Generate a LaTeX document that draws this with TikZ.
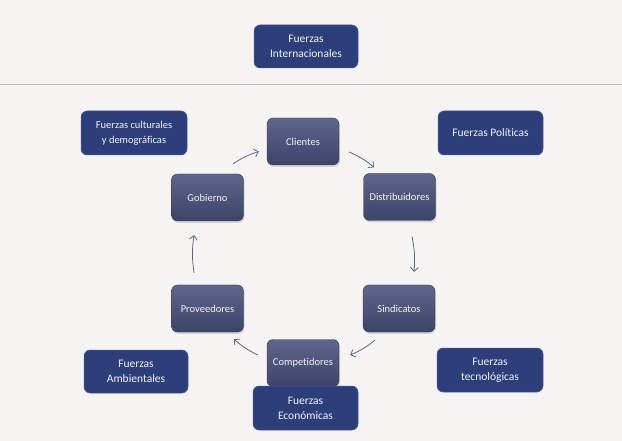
\documentclass[tikz,border=0pt]{standalone}
\usepackage{fontspec}
\setmainfont[Ligatures=NoCommon]{Carlito}
\usetikzlibrary{shadows,arrows.meta}
\definecolor{bg}{HTML}{F5F4F2}
\definecolor{outerfill}{HTML}{2C3F7B}
\definecolor{outerline}{HTML}{4D5C93}
\definecolor{innertop}{HTML}{60658A}
\definecolor{innerbot}{HTML}{3D4469}
\definecolor{arrowc}{HTML}{5E6488}
\definecolor{rulec}{HTML}{BFBCB8}
\definecolor{txt}{HTML}{F2F4FA}
\begin{document}
\begin{tikzpicture}[x=1pt,y=-1pt,
  innerbox/.style={rounded corners=6pt, minimum width=72pt, minimum height=47pt,
    top color=innertop, bottom color=innerbot, draw=innerbot!80!black, line width=0.3pt,
    text=txt, align=center, inner sep=0pt,
    font=\fontsize{10.5}{13}\selectfont,
    drop shadow={opacity=0.25, shadow xshift=1pt, shadow yshift=-2pt}},
  outerbox/.style={rounded corners=6pt, fill=outerfill, draw=outerline, line width=0.5pt,
    text=txt, align=center, inner sep=0pt,
    font=\fontsize{11.5}{15}\selectfont},
  arr/.style={draw=arrowc, line width=0.8pt, -{Straight Barb[length=4pt,width=8pt]}}
]
\useasboundingbox (0,0) rectangle (622,441);
\fill[bg] (0,0) rectangle (622,441);
\coordinate (rl) at (0,85);
\coordinate (rr) at (622,85);
\draw[rulec, line width=1pt] (rl) -- (rr);

\node[outerbox, minimum width=104pt, minimum height=43pt] (inter) at (306,46.5) {Fuerzas\\Internacionales};
\node[outerbox, minimum width=106pt, minimum height=44pt, font=\fontsize{10.5}{15}\selectfont] (cult) at (134,133) {Fuerzas culturales\\y demográficas};
\node[outerbox, minimum width=105pt, minimum height=44pt] (pol) at (490.5,133) {Fuerzas Políticas};
\node[outerbox, minimum width=104pt, minimum height=43pt] (amb) at (136,371.5) {Fuerzas\\Ambientales};
\node[outerbox, minimum width=106pt, minimum height=44pt] (tec) at (490,370) {Fuerzas\\tecnológicas};

\node[innerbox] (cli) at (303,141.5) {Clientes};
\node[innerbox] (dis) at (399.5,197) {Distribuidores};
\node[innerbox] (gob) at (207.5,197.5) {Gobierno};
\node[innerbox] (pro) at (207.5,308.5) {Proveedores};
\node[innerbox] (sin) at (399,308.5) {Sindicatos};
\node[innerbox] (com) at (303,363) {Competidores};

\node[outerbox, minimum width=105pt, minimum height=44pt] (eco) at (305.5,408) {Fuerzas\\Económicas};

\draw[arr] ([shift={(10,10.5)}]cli.east) to[bend left=8] ([shift={(-25.5,-6)}]dis.north);
\draw[arr] ([shift={(12.5,16)}]dis.south) to[bend left=8] ([shift={(15,-13)}]sin.north);
\draw[arr] ([shift={(-24,8)}]sin.south) to[bend left=8] ([shift={(11,-8)}]com.east);
\draw[arr] ([shift={(-9,-8)}]com.west) to[bend left=8] ([shift={(26.5,7)}]pro.south);
\draw[arr] ([shift={(-13.5,-12)}]pro.north) to[bend left=8] ([shift={(-13.5,14)}]gob.south);
\draw[arr] ([shift={(25.5,-10)}]gob.north) to[bend left=8] ([shift={(-8,10)}]cli.west);
\end{tikzpicture}
\end{document}
